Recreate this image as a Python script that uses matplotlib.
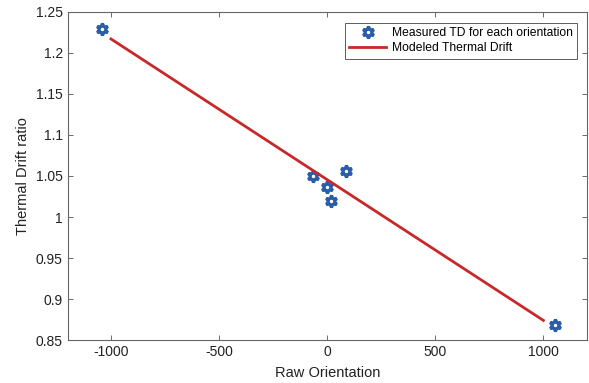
import matplotlib.pyplot as plt

plt.rcParams['font.family'] = ['Liberation Sans', 'DejaVu Sans']
plt.rcParams['axes.unicode_minus'] = False

# measured thermal drift ratio for each orientation
orient = [-1040, -64, -3, 16, 88, 1052]
td_ratio = [1.229, 1.050, 1.0366, 1.020, 1.0557, 0.868]

# modeled thermal drift line endpoints
model_x = [-1000, 1000]
model_y = [1.217, 0.874]

xticks = [-1000, -500, 0, 500, 1000]
yticks = [0.85, 0.9, 0.95, 1, 1.05, 1.1, 1.15, 1.2, 1.25]
ytick_labels = ['0.85', '0.9', '0.95', '1', '1.05', '1.1', '1.15', '1.2', '1.25']

fig = plt.figure(figsize=(5.89, 3.83), dpi=100)
ax = fig.add_axes([0.115, 0.112, 0.881, 0.857])

ax.plot(orient, td_ratio, linestyle='none', marker=(6, 1, 0), markersize=8.5,
        markerfacecolor='white', markeredgecolor='#2a5ea8', markeredgewidth=2.3,
        label='Measured TD for each orientation')
ax.plot(model_x, model_y, color='#c8282a', linewidth=2, label='Modeled Thermal Drift')

ax.set_xlim(-1200, 1200)
ax.set_ylim(0.85, 1.25)
ax.set_xticks(xticks)
ax.set_yticks(yticks)
ax.set_yticklabels(ytick_labels)
ax.tick_params(direction='in', top=True, right=True, labelsize=10,
               color='#555555', labelcolor='#222222', length=3.5, width=0.6)
for s in ax.spines.values():
    s.set_color('#666666')
    s.set_linewidth(0.8)

ax.set_xlabel('Raw Orientation', fontsize=10.5, color='#222222', labelpad=5)
ax.set_ylabel('Thermal Drift ratio', fontsize=10.5, color='#222222', labelpad=4)

leg = ax.legend(loc='upper right', bbox_to_anchor=(0.981, 0.966), fontsize=8.7,
                frameon=True, fancybox=False, edgecolor='#333333',
                borderpad=0.35, labelspacing=0.25, handlelength=3.0,
                handletextpad=0.5, borderaxespad=0)
leg.get_frame().set_linewidth(0.7)

fig.savefig('out.png', dpi=100)
